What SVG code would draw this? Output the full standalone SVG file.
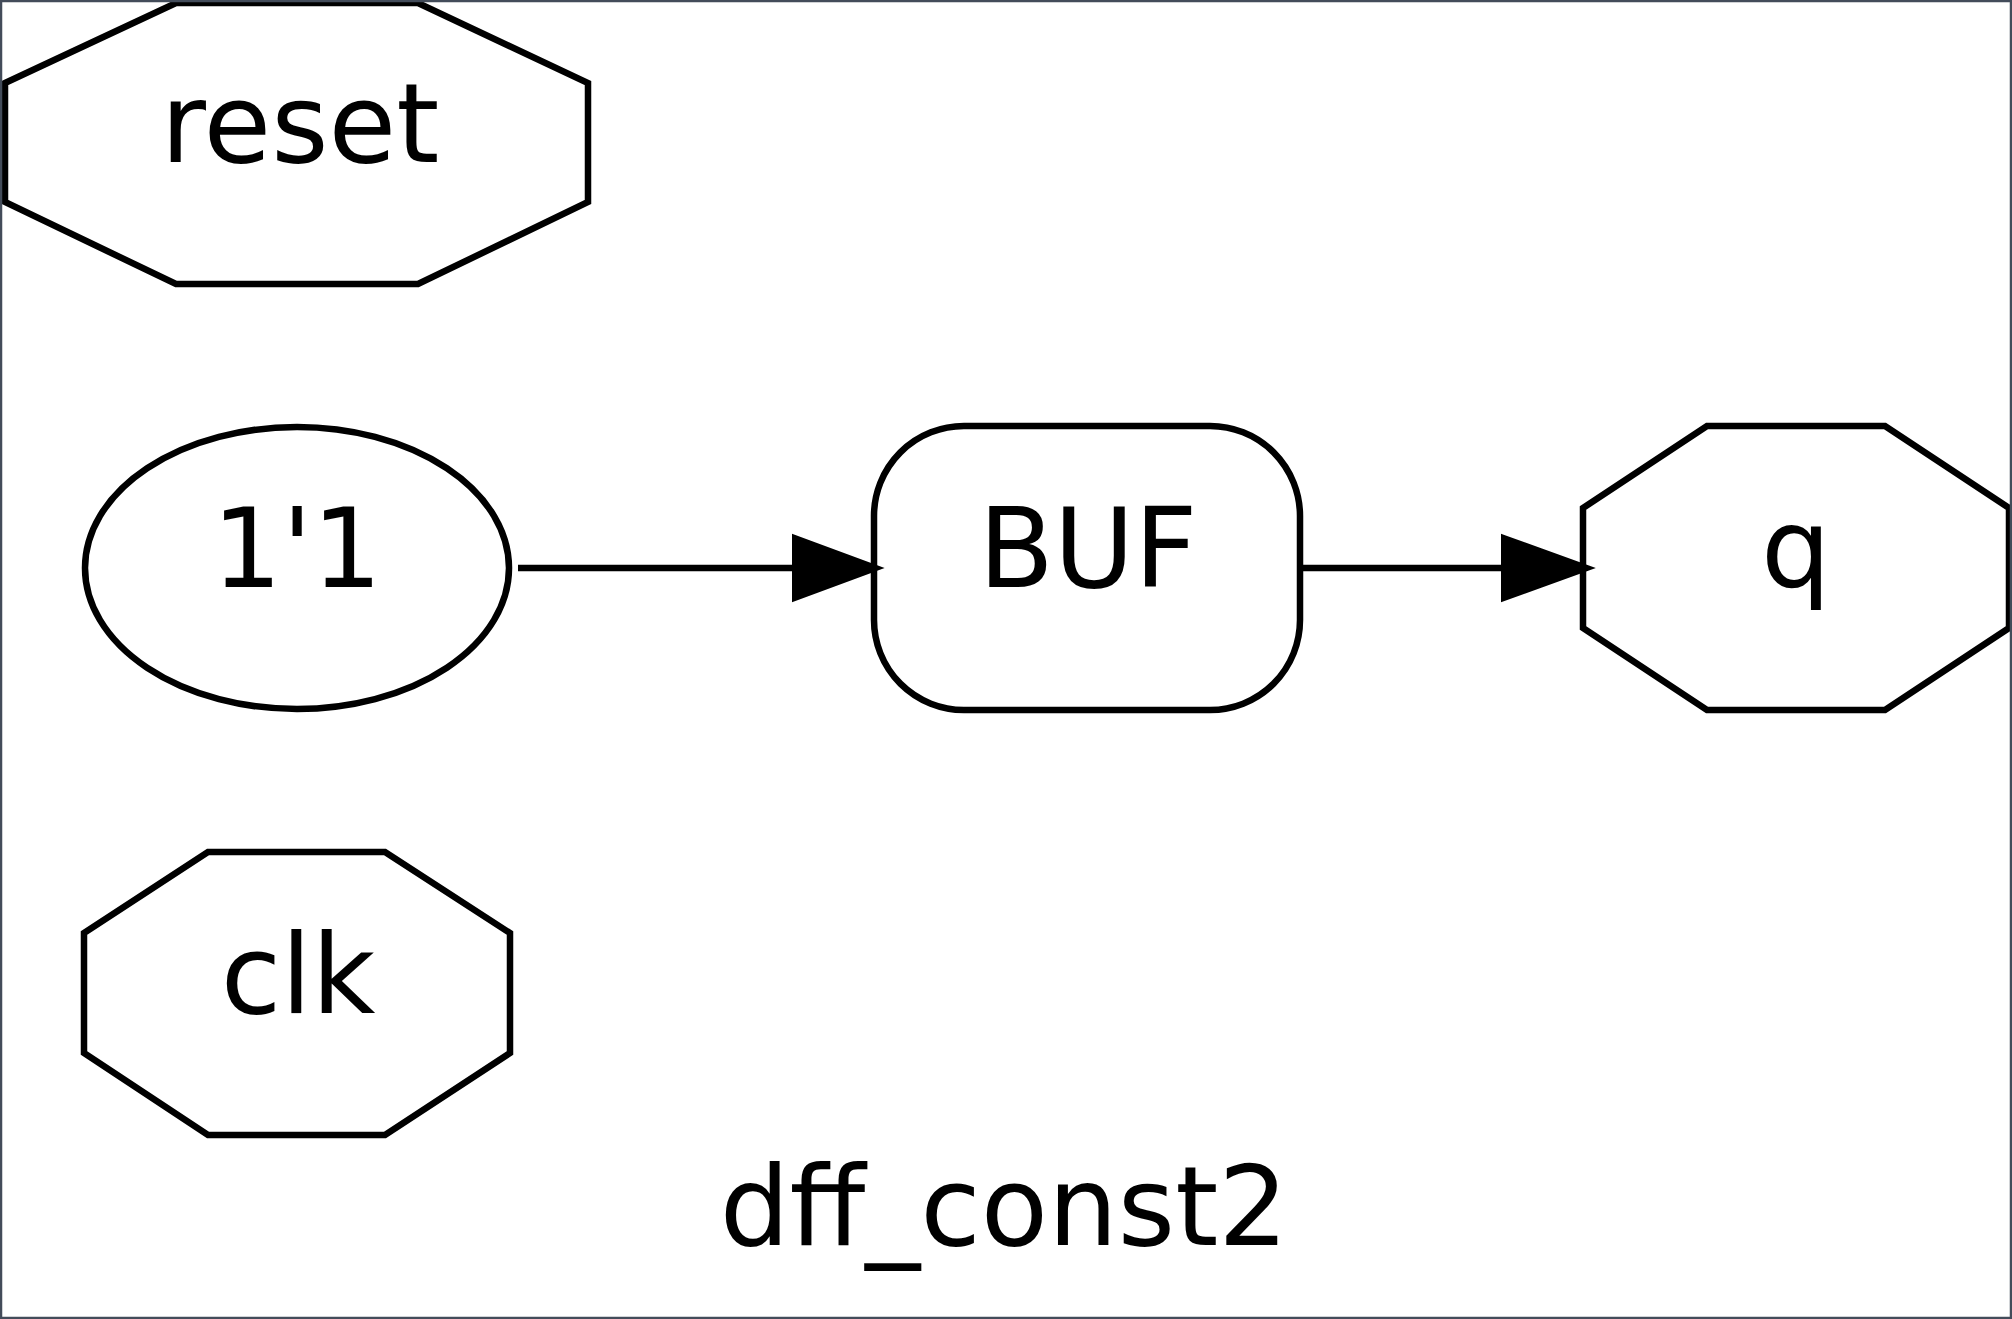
<svg xmlns="http://www.w3.org/2000/svg" width="2012" height="1319" viewBox="0 0 2012 1319">
<style>
.n{fill:#ffffff;stroke:#000000;stroke-width:6.5;stroke-linejoin:miter}
.t{font-family:"DejaVu Sans","Liberation Sans",sans-serif;font-size:110px;fill:#000000;text-anchor:middle}
.e{stroke:#000000;stroke-width:6.5;fill:none}
.a{fill:#000000;stroke:#000000;stroke-width:6}
</style>
<rect x="0" y="0" width="2012" height="1319" fill="#ffffff"/>
<g id="node-reset">
<polygon class="n" points="5,83 176,3 418,3 588,83 588,202 418,284 176,284 5,202"/>
<text class="t" x="300" y="162">reset</text>
</g>
<g id="node-const">
<ellipse class="n" cx="297" cy="568" rx="212" ry="141"/>
<text class="t" x="297" y="587">1'1</text>
</g>
<g id="node-buf">
<rect class="n" x="874" y="426" width="426" height="284" rx="90" ry="90"/>
<text class="t" x="1088" y="587">BUF</text>
</g>
<g id="node-q">
<polygon class="n" points="1583,508 1707,426 1885,426 2009,508 2009,628 1885,710 1707,710 1583,628"/>
<text class="t" x="1796" y="587">q</text>
</g>
<g id="node-clk">
<polygon class="n" points="84,933 208,852 385,852 510,933 510,1053 385,1135 208,1135 84,1053"/>
<text class="t" x="298" y="1013">clk</text>
</g>
<g id="edges">
<line class="e" x1="518" y1="568" x2="796" y2="568"/>
<polygon class="a" points="795,538 876,568 795,598"/>
<line class="e" x1="1300" y1="568" x2="1505" y2="568"/>
<polygon class="a" points="1504,538 1587,568 1504,598"/>
</g>
<text class="t" x="1004" y="1245">dff_const2</text>
<rect x="1" y="1" width="2010" height="1317" fill="none" stroke="#434c5a" stroke-width="2.5"/>
</svg>
